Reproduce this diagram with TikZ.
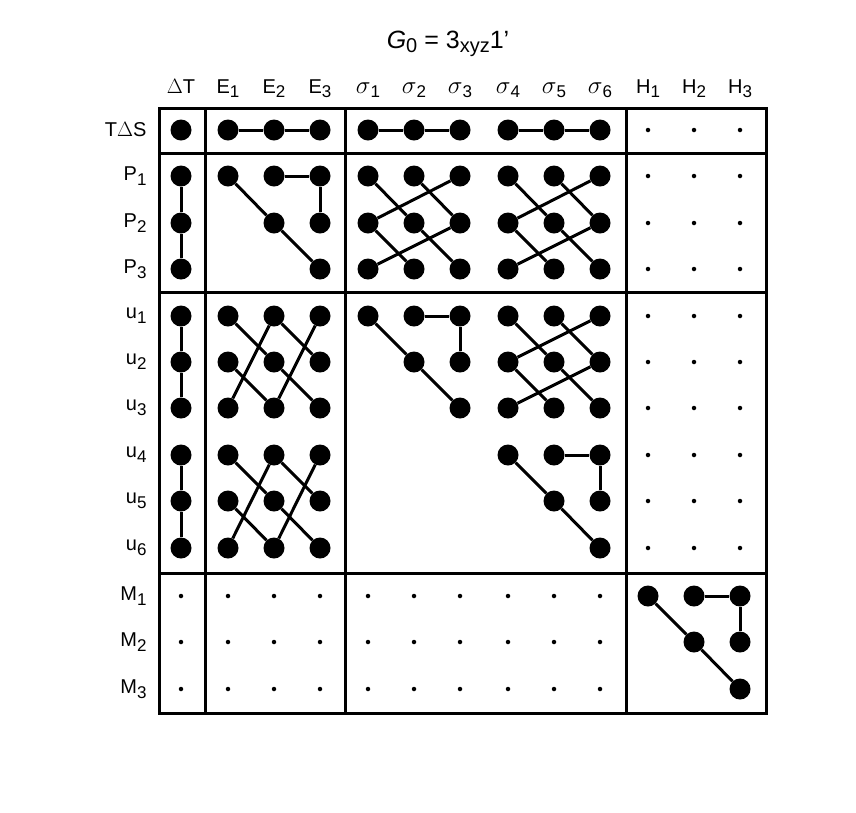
\documentclass[tikz,border=0pt]{standalone}
\usepackage{amsmath}
\usepackage{fontspec}
\setmainfont{Liberation Sans}
\tikzset{>=latex}
\tikzset{
  bigdot/.style={circle,fill=black,inner sep=0pt,minimum size=21pt},
  smalldot/.style={circle,fill=black,inner sep=0pt,minimum size=4.5pt},
  link/.style={line width=3pt},
  frame/.style={line width=3pt},
  lbl/.style={font=\fontsize{20}{24}\selectfont}
}
\newcommand{\sub}[1]{\raisebox{-0.45ex}{\fontsize{17}{20}\selectfont #1}}
\newcommand{\sig}[1]{{\fontsize{24}{26}\selectfont$\sigma$}\sub{#1}}
% triangle block: 6 dots, offsets #2 (col) and #3 (row)
\newcommand{\triblock}[3]{%
  \foreach \c/\r in {0/0,1/0,2/0,1/1,2/1,2/2}
    \node[bigdot] (#1-\c-\r) at ({\colx[#2+\c]},{\rowy[#3+\r]}) {};
  \draw[link] (#1-0-0) -- (#1-1-1) -- (#1-2-2);
  \draw[link] (#1-1-0) -- (#1-2-0) -- (#1-2-1);
}
% full 3x3 block
\newcommand{\fullblock}[3]{%
  \foreach \c in {0,1,2}
    \foreach \r in {0,1,2}
      \node[bigdot] (#1-\c-\r) at ({\colx[#2+\c]},{\rowy[#3+\r]}) {};
  \draw[link] (#1-0-0) -- (#1-1-1) -- (#1-2-2);
  \draw[link] (#1-1-0) -- (#1-2-1);
  \draw[link] (#1-0-1) -- (#1-1-2);
}
\begin{document}
\begin{tikzpicture}[x=1pt,y=-1pt]
  \def\colx{{181,228,274,320,368,414,460,508,554,600,648,694,740}}
  \def\rowy{{130,176,223,269,316,362,408,455,501,548,596,642,689}}
  \useasboundingbox (0,0) rectangle (856,812);

  % title and labels
  \node[lbl,font=\fontsize{25}{28}\selectfont,anchor=base] (title) at (448,48) {\textit{G}{\fontsize{20}{22}\selectfont\raisebox{-0.45ex}{0}} = 3{\fontsize{20}{22}\selectfont\raisebox{-0.45ex}{xyz}}1'};
  \foreach \t [count=\i from 0] in {$\Delta$T,E\sub{1},E\sub{2},E\sub{3},\sig{1},\sig{2},\sig{3},\sig{4},\sig{5},\sig{6},H\sub{1},H\sub{2},H\sub{3}}
    \node[lbl,anchor=base] (col\i) at ({\colx[\i]},93) {\t};
  \foreach \t [count=\i from 0] in {T$\Delta$S,P\sub{1},P\sub{2},P\sub{3},u\sub{1},u\sub{2},u\sub{3},u\sub{4},u\sub{5},u\sub{6},M\sub{1},M\sub{2},M\sub{3}}
    \node[lbl,anchor=east] (row\i) at (150,{\rowy[\i]}) {\t};

  % frame
  \draw[frame] (159,108) rectangle (766,713);
  \draw[frame] (205,108) -- (205,713) (345,108) -- (345,713) (626,108) -- (626,713);
  \draw[frame] (159,153) -- (766,153) (159,292) -- (766,292) (159,573) -- (766,573);

  % Delta T column
  \foreach \r in {0,...,9}
    \node[bigdot] (dt\r) at ({\colx[0]},{\rowy[\r]}) {};
  \draw[link] (dt1) -- (dt2) -- (dt3);
  \draw[link] (dt4) -- (dt5) -- (dt6);
  \draw[link] (dt7) -- (dt8) -- (dt9);

  % T Delta S row
  \foreach \c in {1,...,9}
    \node[bigdot] (ts\c) at ({\colx[\c]},{\rowy[0]}) {};
  \draw[link] (ts1) -- (ts2) -- (ts3);
  \draw[link] (ts4) -- (ts5) -- (ts6);
  \draw[link] (ts7) -- (ts8) -- (ts9);

  % triangular blocks
  \triblock{pe}{1}{1}
  \triblock{us}{4}{4}
  \triblock{vs}{7}{7}
  \triblock{mh}{10}{10}

  % full blocks
  \fullblock{pa}{4}{1}
  \draw[link] (pa-2-0) -- (pa-0-1) (pa-2-1) -- (pa-0-2);
  \fullblock{pb}{7}{1}
  \draw[link] (pb-2-0) -- (pb-0-1) (pb-2-1) -- (pb-0-2);
  \fullblock{ub}{7}{4}
  \draw[link] (ub-2-0) -- (ub-0-1) (ub-2-1) -- (ub-0-2);
  \fullblock{ua}{1}{4}
  \draw[link] (ua-1-0) -- (ua-0-2) (ua-2-0) -- (ua-1-2);
  \fullblock{va}{1}{7}
  \draw[link] (va-1-0) -- (va-0-2) (va-2-0) -- (va-1-2);

  % small dots
  \foreach \c in {10,11,12}
    \foreach \r in {0,...,9}
      \node[smalldot] (sh\c-\r) at ({\colx[\c]},{\rowy[\r]}) {};
  \foreach \c in {0,...,9}
    \foreach \r in {10,11,12}
      \node[smalldot] (sm\c-\r) at ({\colx[\c]},{\rowy[\r]}) {};
\end{tikzpicture}
\end{document}
